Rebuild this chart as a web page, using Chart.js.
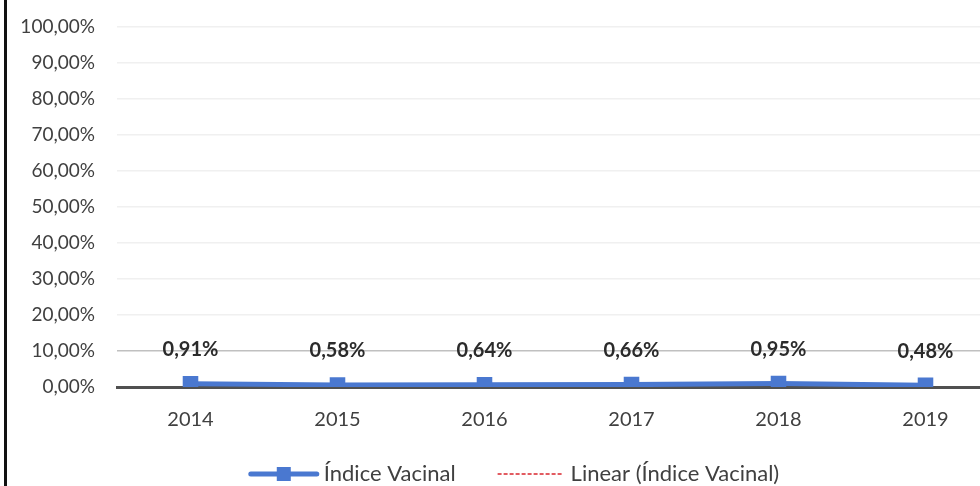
<!DOCTYPE html>
<html lang="pt">
<head>
<meta charset="UTF-8">
<script src="https://cdn.jsdelivr.net/npm/chart.js@4.4.0/dist/chart.umd.min.js"></script>
<style>
  html, body { margin: 0; padding: 0; background: #fff; overflow: hidden; }
  body { width: 980px; height: 486px; position: relative; }
  #frame { position: absolute; left: 4px; top: 0; width: 0; height: 486px; border-left: 3px solid #111; z-index: 2; }
  #chart { position: absolute; left: 0; top: -7px; }
</style>
</head>
<body>
<div id="frame"></div>
<canvas id="chart" width="1030" height="493"></canvas>
<script>
const years = ['2014', '2015', '2016', '2017', '2018', '2019'];
const indiceVacinal = [0.91, 0.58, 0.64, 0.66, 0.95, 0.48];
const yTicks = [0, 10, 20, 30, 40, 50, 60, 70, 80, 90, 100];
const seriesNames = ['Índice Vacinal', 'Linear (Índice Vacinal)'];

const fontFamily = 'Lato, "Open Sans", sans-serif';
const blue = '#4a78d0';
const red = '#d9262e';

function pct(v) {
  return v.toFixed(2).replace('.', ',') + '%';
}

// linear trendline (least squares) from the series
function trend(vals) {
  const n = vals.length;
  let sx = 0, sy = 0, sxy = 0, sxx = 0;
  vals.forEach((y, x) => { sx += x; sy += y; sxy += x * y; sxx += x * x; });
  const b = (n * sxy - sx * sy) / (n * sxx - sx * sx);
  const a = (sy - b * sx) / n;
  return vals.map((_, x) => a + b * x);
}

const dataLabels = {
  id: 'dataLabels',
  afterDatasetsDraw(chart) {
    const ctx = chart.ctx;
    const meta = chart.getDatasetMeta(0);
    ctx.save();
    ctx.font = 'bold 20px ' + fontFamily;
    ctx.fillStyle = '#2b2b2b';
    ctx.textAlign = 'center';
    ctx.textBaseline = 'middle';
    meta.data.forEach((pt, i) => {
      ctx.fillText(pct(indiceVacinal[i]), pt.x, pt.y - 34);
    });
    ctx.restore();
  }
};

const bottomLegend = {
  id: 'bottomLegend',
  afterDraw(chart) {
    const ctx = chart.ctx;
    ctx.save();
    ctx.font = '22px ' + fontFamily;
    ctx.textBaseline = 'middle';
    ctx.fillStyle = '#404040';
    const y = 481;
    const w1 = ctx.measureText(seriesNames[0]).width;
    const w2 = ctx.measureText(seriesNames[1]).width;
    const total = 70 + 5 + w1 + 42 + 66 + 7 + w2;
    let x = 514 - total / 2;
    // series 1 sample
    ctx.strokeStyle = blue;
    ctx.lineWidth = 5;
    ctx.lineCap = 'round';
    ctx.beginPath(); ctx.moveTo(x + 2, y); ctx.lineTo(x + 68, y); ctx.stroke();
    ctx.fillStyle = blue;
    ctx.fillRect(x + 35 - 7, y - 7, 14, 14);
    ctx.fillStyle = '#404040';
    ctx.fillText(seriesNames[0], x + 75, y);
    x += 70 + 5 + w1 + 42;
    // trendline sample
    ctx.strokeStyle = red;
    ctx.lineWidth = 1.5;
    ctx.lineCap = 'butt';
    ctx.setLineDash([4, 2]);
    ctx.beginPath(); ctx.moveTo(x, y); ctx.lineTo(x + 66, y); ctx.stroke();
    ctx.setLineDash([]);
    ctx.fillText(seriesNames[1], x + 73, y);
    ctx.restore();
  }
};

new Chart(document.getElementById('chart'), {
  type: 'line',
  data: {
    labels: years,
    datasets: [
      {
        label: seriesNames[0],
        data: indiceVacinal,
        borderColor: blue,
        backgroundColor: blue,
        borderWidth: 5,
        pointStyle: 'rect',
        pointRadius: 11,
        pointBorderWidth: 0,
        pointBackgroundColor: blue,
        tension: 0
      },
      {
        label: seriesNames[1],
        data: trend(indiceVacinal),
        borderColor: red,
        borderWidth: 2,
        borderDash: [5, 3],
        pointRadius: 0,
        fill: false
      }
    ]
  },
  options: {
    responsive: false,
    animation: false,
    layout: { padding: { top: 19, right: 31, left: 0, bottom: 0 } },
    plugins: {
      legend: { display: false },
      tooltip: { enabled: false }
    },
    scales: {
      x: {
        offset: true,
        grid: { display: false, drawTicks: false },
        border: { display: true, color: '#505050', width: 3 },
        ticks: {
          color: '#404040',
          font: { family: fontFamily, size: 20 },
          padding: 21
        },
        afterFit(scale) { scale.height = 99; }
      },
      y: {
        min: 0,
        max: 100,
        afterBuildTicks(scale) { scale.ticks = yTicks.map(v => ({ value: v })); },
        grid: {
          drawTicks: false,
          lineWidth: 1.5,
          color: c => c.tick.value === 0 ? 'rgba(0,0,0,0)' : (c.tick.value === 10 ? '#c0c0c0' : '#f0f0f0')
        },
        border: { display: false },
        ticks: {
          color: '#404040',
          font: { family: fontFamily, size: 19 },
          padding: 22,
          callback: v => pct(v)
        },
        afterFit(scale) { scale.width = 117; }
      }
    }
  },
  plugins: [dataLabels, bottomLegend]
});
</script>
</body>
</html>
